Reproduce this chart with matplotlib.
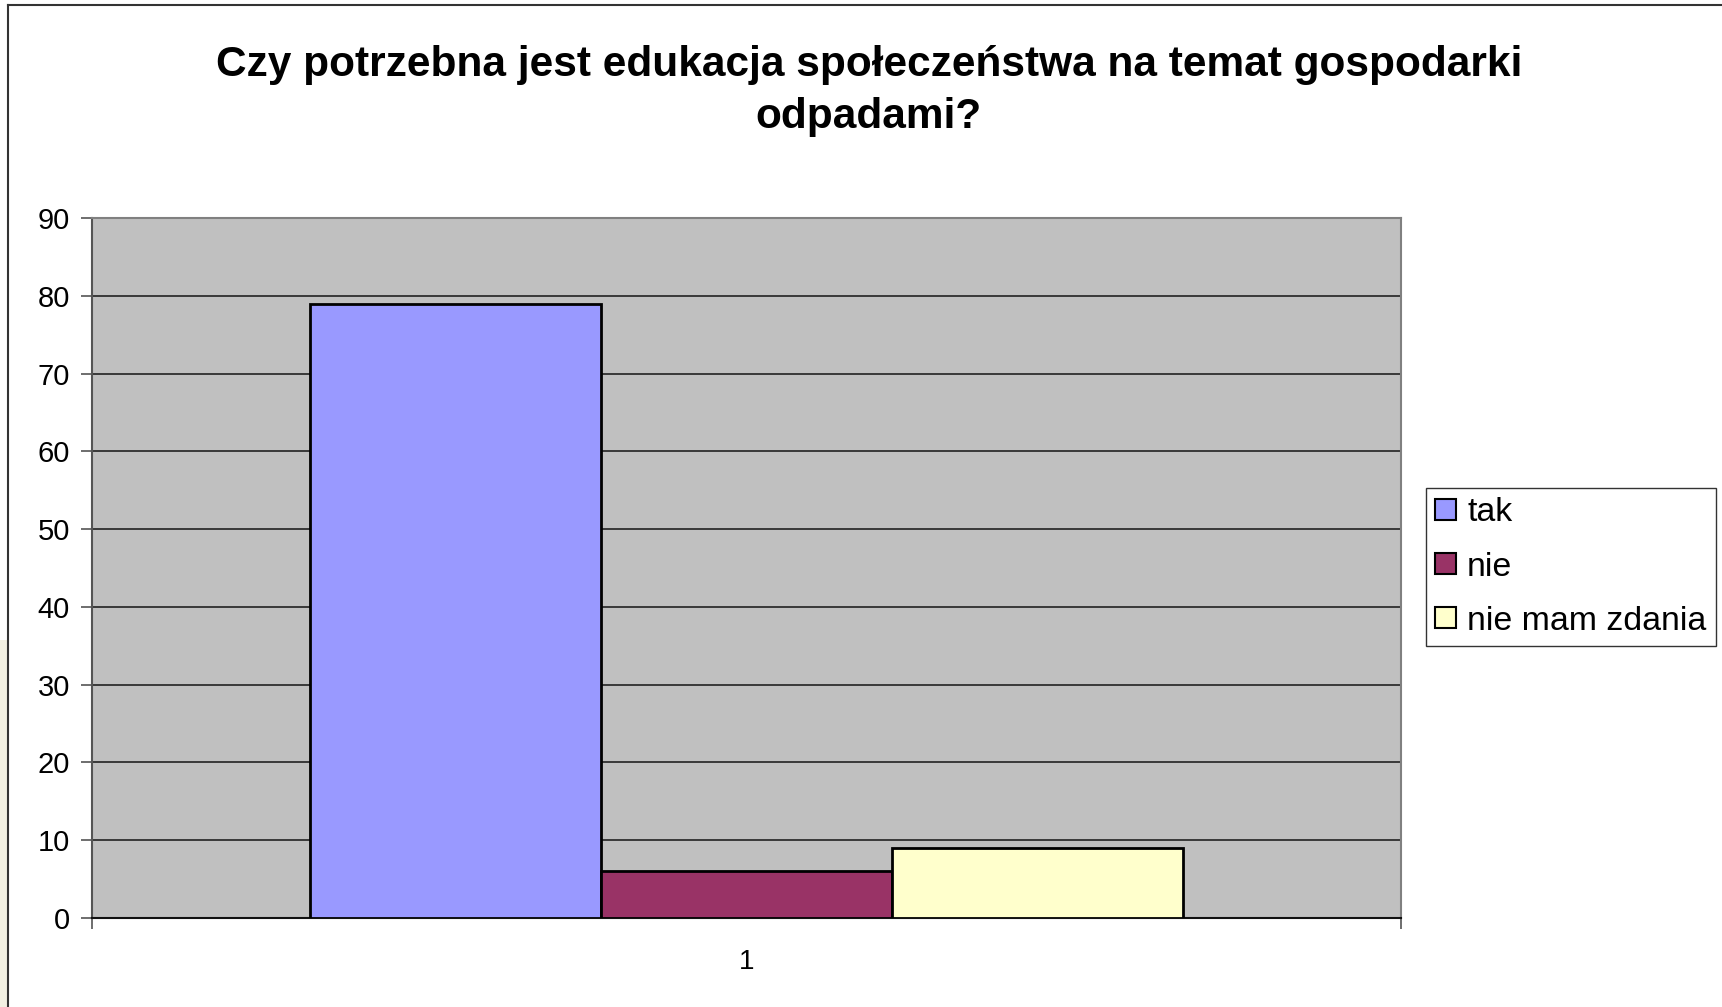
import matplotlib
matplotlib.use("Agg")
import matplotlib.pyplot as plt
from matplotlib.patches import Rectangle, Patch

title = "Czy potrzebna jest edukacja społeczeństwa na temat gospodarki\nodpadami?"
series_names = ["tak", "nie", "nie mam zdania"]
series_values = [79, 6, 9]
series_colors = ["#9999FF", "#993366", "#FFFFCC"]
category_labels = ["1"]
y_ticks = [0, 10, 20, 30, 40, 50, 60, 70, 80, 90]

plt.rcParams['font.family'] = ['Liberation Sans', 'DejaVu Sans']

W, H = 1722, 1007
fig = plt.figure(figsize=(W / 100, H / 100), dpi=100)
fig.patch.set_facecolor("white")

# slide background strip and chart frame
fig.patches.append(Rectangle((0, 0), 8 / W, 1 - 640 / H, transform=fig.transFigure,
                             facecolor="#F2F0E2", edgecolor="none", zorder=0))
fig.lines.append(plt.Line2D([8 / W, 8 / W], [0, 1 - 5 / H], transform=fig.transFigure,
                            color="#333333", lw=1.5))
fig.lines.append(plt.Line2D([8 / W, 1], [1 - 5 / H, 1 - 5 / H], transform=fig.transFigure,
                            color="#333333", lw=1.5))

left, right, top, bottom = 92, 1401, 218, 918
ax = fig.add_axes([left / W, 1 - bottom / H, (right - left) / W, (bottom - top) / H])
ax.set_facecolor("#C0C0C0")

n = len(series_values)
group = 2 / 3
bw = group / n
x0 = 1 - group / 2 + bw / 2
for i, (name, v, c) in enumerate(zip(series_names, series_values, series_colors)):
    ax.bar(x0 + i * bw, v, width=bw, color=c, edgecolor="black", linewidth=2, zorder=3,
           label=name)

ax.set_xlim(0.5, 1.5)
ax.set_ylim(0, 90)
ax.set_yticks(y_ticks)
ax.set_yticklabels([str(t) for t in y_ticks], fontsize=21)
ax.yaxis.grid(True, color="#222222", linewidth=1.2, zorder=1)
ax.set_axisbelow(True)
ax.tick_params(axis="y", length=8, width=1.2, color="#555555", pad=8)

ax.set_xticks([1])
ax.set_xticklabels(category_labels, fontsize=20)
ax.tick_params(axis="x", which="major", length=0, pad=22)
ax.set_xticks([0.5, 1.5], minor=True)
ax.tick_params(axis="x", which="minor", length=8, width=1.2, color="#555555")

for s in ["top", "right"]:
    ax.spines[s].set_color("#808080")
    ax.spines[s].set_linewidth(1.5)
ax.spines["left"].set_color("#555555")
ax.spines["left"].set_linewidth(1.5)
ax.spines["bottom"].set_color("#111111")
ax.spines["bottom"].set_linewidth(1.5)

fig.text(869 / W, 1 - 91 / H, title, ha="center", va="center", fontsize=30.5,
         fontweight="bold", linespacing=1.38)

handles = [Patch(facecolor=c, edgecolor="black", linewidth=1.5) for c in series_colors]
leg = fig.legend(handles, series_names, loc="upper left",
                 bbox_to_anchor=(1426 / W, 1 - 488 / H), fontsize=24.4,
                 frameon=True, fancybox=False, edgecolor="black",
                 handlelength=0.6, handleheight=0.6, handletextpad=0.33,
                 labelspacing=0.68, borderpad=0.28, borderaxespad=0)
leg.get_frame().set_linewidth(1.0)

fig.savefig("out.png", dpi=100, facecolor="white")
